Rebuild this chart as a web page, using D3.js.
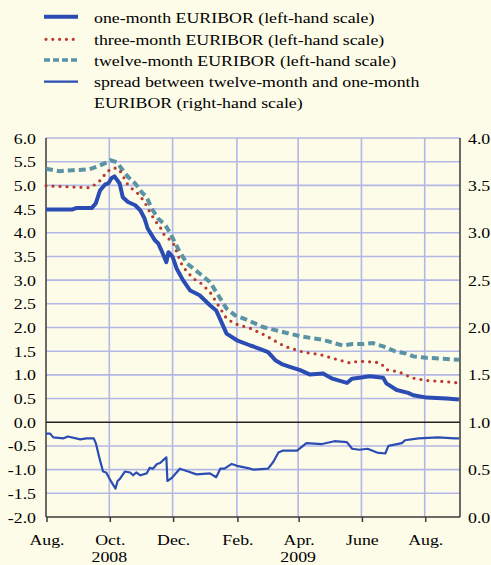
<!DOCTYPE html>
<html><head><meta charset="utf-8">
<script src="https://cdn.jsdelivr.net/npm/d3@7"></script>
<style>
html,body{margin:0;padding:0;background:#fdfce8;}
svg{display:block;}
text{font-family:"Liberation Serif","Times New Roman",serif;fill:#000;}
</style></head>
<body>
<svg id="c" width="491" height="565"></svg>
<script>
// ---- data ----
const oneMonth = [
["2008-08-01",4.49],["2008-08-26",4.49],["2008-08-30",4.52],["2008-09-14",4.52],["2008-09-18",4.62],
["2008-09-22",4.89],["2008-09-27",5.02],["2008-09-30",5.04],["2008-10-03",5.15],["2008-10-06",5.19],
["2008-10-11",5.04],["2008-10-14",4.75],["2008-10-19",4.65],["2008-10-26",4.58],["2008-10-31",4.47],
["2008-11-04",4.30],["2008-11-07",4.09],["2008-11-14",3.84],["2008-11-17",3.78],["2008-11-21",3.59],
["2008-11-25",3.38],["2008-11-27",3.59],["2008-12-01",3.49],["2008-12-05",3.24],["2008-12-11",3.00],
["2008-12-18",2.78],["2008-12-27",2.68],["2009-01-06",2.47],["2009-01-12",2.36],["2009-01-17",2.12],
["2009-01-22",1.87],["2009-02-01",1.73],["2009-02-14",1.62],["2009-02-23",1.55],["2009-03-03",1.48],
["2009-03-10",1.31],["2009-03-17",1.22],["2009-03-24",1.17],["2009-04-03",1.10],["2009-04-12",1.01],
["2009-04-25",1.03],["2009-05-04",0.92],["2009-05-18",0.83],["2009-05-23",0.92],["2009-05-30",0.94],
["2009-06-09",0.97],["2009-06-22",0.94],["2009-06-25",0.82],["2009-07-05",0.68],["2009-07-16",0.62],
["2009-07-21",0.57],["2009-08-03",0.52],["2009-08-22",0.50],["2009-09-03",0.48]
];
const threeMonth = [
["2008-08-01",4.99],["2008-09-12",4.95],["2008-09-19",5.04],["2008-09-24",5.14],["2008-09-28",5.28],
["2008-10-05",5.37],["2008-10-10",5.35],["2008-10-13",5.25],["2008-10-18",5.04],["2008-10-23",4.93],
["2008-10-29",4.82],["2008-11-04",4.65],["2008-11-09",4.44],["2008-11-14",4.26],["2008-11-19",4.12],
["2008-11-22",3.98],["2008-11-27",3.88],["2008-12-02",3.76],["2008-12-05",3.59],["2008-12-08",3.42],
["2008-12-11",3.28],["2008-12-21",3.03],["2008-12-27",2.96],["2009-01-06",2.75],["2009-01-14",2.47],
["2009-01-22",2.19],["2009-01-30",2.08],["2009-02-14",1.98],["2009-02-28",1.84],["2009-03-14",1.66],
["2009-03-22",1.58],["2009-04-06",1.48],["2009-04-22",1.43],["2009-05-06",1.34],["2009-05-21",1.25],
["2009-05-29",1.29],["2009-06-14",1.27],["2009-06-20",1.24],["2009-06-25",1.11],["2009-07-03",1.08],
["2009-07-11",1.03],["2009-07-19",0.94],["2009-08-03",0.88],["2009-08-19",0.86],["2009-09-03",0.83]
];
const twelveMonth = [
["2008-08-01",5.35],["2008-08-14",5.30],["2008-08-27",5.32],["2008-09-12",5.34],["2008-09-20",5.40],
["2008-09-27",5.47],["2008-10-02",5.53],["2008-10-08",5.49],["2008-10-13",5.35],["2008-10-19",5.18],
["2008-10-26",5.04],["2008-11-01",4.86],["2008-11-06",4.75],["2008-11-11",4.51],["2008-11-17",4.30],
["2008-11-24",4.16],["2008-11-28",4.02],["2008-12-08",3.59],["2008-12-15",3.35],["2008-12-27",3.14],
["2009-01-06",2.96],["2009-01-14",2.68],["2009-01-22",2.40],["2009-01-30",2.26],["2009-02-12",2.15],
["2009-02-26",2.01],["2009-03-11",1.94],["2009-03-22",1.88],["2009-04-04",1.81],["2009-04-25",1.74],
["2009-05-06",1.67],["2009-05-14",1.62],["2009-05-23",1.65],["2009-06-03",1.65],["2009-06-12",1.67],
["2009-06-22",1.60],["2009-07-03",1.50],["2009-07-14",1.45],["2009-07-21",1.39],["2009-08-03",1.36],
["2009-08-19",1.34],["2009-09-03",1.32]
];
const spread = [
["2008-08-01",0.88],["2008-08-05",0.88],["2008-08-08",0.84],["2008-08-18",0.83],["2008-08-22",0.85],
["2008-09-03",0.82],["2008-09-09",0.83],["2008-09-16",0.83],["2008-09-18",0.78],["2008-09-22",0.60],
["2008-09-25",0.48],["2008-09-28",0.47],["2008-10-03",0.37],["2008-10-07",0.30],["2008-10-09",0.38],
["2008-10-11",0.40],["2008-10-16",0.48],["2008-10-21",0.47],["2008-10-24",0.44],["2008-10-27",0.47],
["2008-10-31",0.44],["2008-11-06",0.46],["2008-11-09",0.52],["2008-11-12",0.51],["2008-11-16",0.56],
["2008-11-19",0.57],["2008-11-22",0.60],["2008-11-25",0.63],["2008-11-26",0.38],["2008-11-30",0.41],
["2008-12-08",0.51],["2008-12-16",0.48],["2008-12-24",0.45],["2009-01-06",0.46],["2009-01-12",0.42],
["2009-01-16",0.51],["2009-01-20",0.51],["2009-01-27",0.56],["2009-02-01",0.54],["2009-02-14",0.51],
["2009-02-17",0.50],["2009-03-03",0.51],["2009-03-08",0.58],["2009-03-13",0.68],["2009-03-17",0.70],
["2009-03-31",0.70],["2009-04-09",0.78],["2009-04-24",0.77],["2009-05-06",0.80],["2009-05-18",0.79],
["2009-05-23",0.72],["2009-05-30",0.71],["2009-06-07",0.72],["2009-06-16",0.68],["2009-06-24",0.67],
["2009-06-27",0.75],["2009-07-10",0.78],["2009-07-13",0.81],["2009-07-26",0.83],["2009-08-14",0.84],
["2009-08-30",0.83],["2009-09-03",0.83]
];
const xTickDates = ["2008-08-01","2008-10-01","2008-12-01","2009-02-01","2009-04-01","2009-06-01","2009-08-01"];
const xTickLabels = ["Aug.","Oct.","Dec.","Feb.","Apr.","June","Aug."];
const yearLabels = [["2008-10-01","2008"],["2009-04-01","2009"]];
const leftTicks = [-2,-1.5,-1,-0.5,0,0.5,1,1.5,2,2.5,3,3.5,4,4.5,5,5.5,6];
const rightTicks = [0,0.5,1,1.5,2,2.5,3,3.5,4];
const legendLabels = [
  "one-month EURIBOR (left-hand scale)",
  "three-month EURIBOR (left-hand scale)",
  "twelve-month EURIBOR (left-hand scale)",
  "spread between twelve-month and one-month",
  "EURIBOR (right-hand scale)"
];

// ---- layout ----
const parse = d3.timeParse("%Y-%m-%d");
const L = 46, R = 460, T = 138, B = 517;
const x = d3.scaleTime().domain([parse("2008-08-01"), parse("2009-09-04")]).range([L, R]);
const yL = d3.scaleLinear().domain([-2, 6]).range([B, T]);
const yR = d3.scaleLinear().domain([0, 4]).range([B, T]);

const svg = d3.select("#c");
svg.append("rect").attr("width",491).attr("height",565).attr("fill","#fdfce8");

const FS = 15.5, SX = 1.15;
function txt(px, py, s, anchor){
  return svg.append("text")
    .attr("transform", `translate(${px},${py}) scale(${SX},1)`)
    .attr("text-anchor", anchor || "start")
    .attr("font-size", FS)
    .text(s);
}

const gridCol = "#b3b7e6";
// horizontal grid
svg.append("g").selectAll("line").data(leftTicks.filter(d => d > -2 && d !== 0)).join("line")
  .attr("x1", L).attr("x2", R).attr("y1", d => yL(d)).attr("y2", d => yL(d))
  .attr("stroke", gridCol).attr("stroke-width", 1.6);
// vertical grid
svg.append("g").selectAll("line").data(xTickDates.slice(1)).join("line")
  .attr("x1", d => x(parse(d))).attr("x2", d => x(parse(d)))
  .attr("y1", T).attr("y2", B)
  .attr("stroke", gridCol).attr("stroke-width", 1.6);

// axes lines
const axCol = "#3a3a3a";
svg.append("line").attr("x1",L).attr("x2",L).attr("y1",T).attr("y2",B).attr("stroke",axCol).attr("stroke-width",1.5);
svg.append("line").attr("x1",R).attr("x2",R).attr("y1",T).attr("y2",B).attr("stroke",axCol).attr("stroke-width",1.5);
svg.append("line").attr("x1",L).attr("x2",R).attr("y1",yL(0)).attr("y2",yL(0)).attr("stroke","#222").attr("stroke-width",1.5);
svg.append("line").attr("x1",L).attr("x2",R).attr("y1",B).attr("y2",B).attr("stroke",axCol).attr("stroke-width",1.5);
svg.append("g").selectAll("line").data(xTickDates).join("line")
  .attr("x1", d => x(parse(d)) + 1).attr("x2", d => x(parse(d)) + 1)
  .attr("y1", B).attr("y2", B + 5)
  .attr("stroke", axCol).attr("stroke-width", 1.5);

// tick labels
leftTicks.forEach(v => txt(36, yL(v) + 5.5, v.toFixed(1), "end"));
rightTicks.forEach(v => txt(468, yR(v) + 5.5, v.toFixed(1), "start"));
xTickDates.forEach((d,i) => txt(x(parse(d)) + 1, 544.5, xTickLabels[i], "middle"));
yearLabels.forEach(([d,s]) => txt(x(parse(d)), 561.5, s, "middle"));

// series
const toPts = arr => arr.map(([d,v]) => [parse(d), v]);
const lineL = d3.line().x(d => x(d[0])).y(d => yL(d[1]));
const lineR = d3.line().x(d => x(d[0])).y(d => yR(d[1]));

const cBlue = "#2b4db3", cRed = "#b83a2e", cTeal = "#5a93a6";

svg.append("path").attr("d", lineR(toPts(spread))).attr("fill","none")
  .attr("stroke", cBlue).attr("stroke-width", 2.2).attr("stroke-linejoin","round");
svg.append("path").attr("d", lineL(toPts(twelveMonth))).attr("fill","none")
  .attr("stroke", cTeal).attr("stroke-width", 4).attr("stroke-dasharray","7,4");
svg.append("path").attr("d", lineL(toPts(threeMonth))).attr("fill","none")
  .attr("stroke", cRed).attr("stroke-width", 3.2).attr("stroke-dasharray","0,7").attr("stroke-linecap","round");
svg.append("path").attr("d", lineL(toPts(oneMonth))).attr("fill","none")
  .attr("stroke", cBlue).attr("stroke-width", 4).attr("stroke-linejoin","round");

// legend
const legY = [16.7, 39.3, 60, 81.7];
const lg = svg.append("g");
lg.append("line").attr("x1",44).attr("x2",78).attr("y1",legY[0]).attr("y2",legY[0]).attr("stroke",cBlue).attr("stroke-width",4);
lg.append("line").attr("x1",46).attr("x2",78).attr("y1",legY[1]).attr("y2",legY[1]).attr("stroke",cRed).attr("stroke-width",3.2).attr("stroke-dasharray","0,6.8").attr("stroke-linecap","round");
lg.append("line").attr("x1",44).attr("x2",78).attr("y1",legY[2]).attr("y2",legY[2]).attr("stroke",cTeal).attr("stroke-width",3.5).attr("stroke-dasharray","6,3");
lg.append("line").attr("x1",44).attr("x2",78).attr("y1",legY[3]).attr("y2",legY[3]).attr("stroke",cBlue).attr("stroke-width",2.2);
const legBase = [22.5, 44.5, 65.5, 87, 108];
legendLabels.forEach((s,i) => txt(94, legBase[i], s, "start"));
</script>
</body></html>
